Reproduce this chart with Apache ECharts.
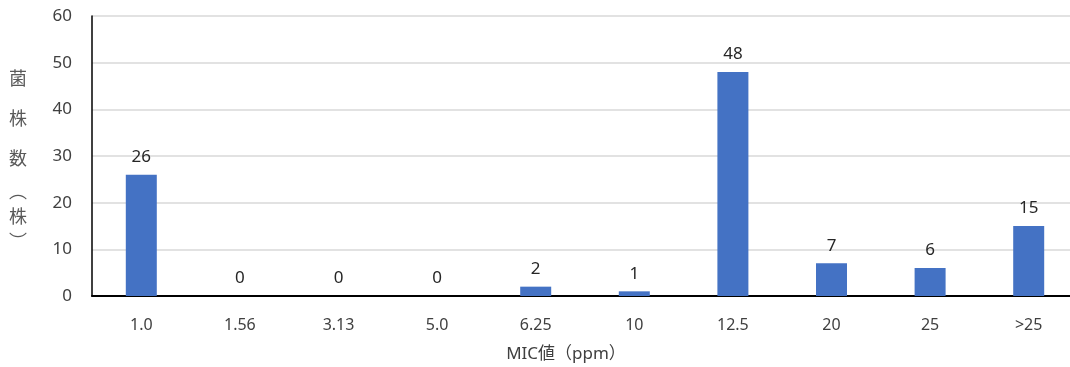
<!DOCTYPE html>
<html>
<head>
<meta charset="utf-8">
<script src="https://cdn.jsdelivr.net/npm/echarts@6/dist/echarts.min.js"></script>
<style>html,body{margin:0;padding:0;background:#fff}#c{width:1070px;height:367px}</style>
</head>
<body>
<div id="c"></div>
<script>
const categories = ['1.0', '1.56', '3.13', '5.0', '6.25', '10', '12.5', '20', '25', '>25'];
const counts = [26, 0, 0, 0, 2, 1, 48, 7, 6, 15];
const yTicks = { min: 0, max: 60, interval: 10 };
const xTitle = 'MIC値（ppm）';
const yTitle = ['菌', '株', '数', '︵', '株', '︶'];

const font = '"Noto Sans", "Noto Sans CJK JP", sans-serif';
const chart = echarts.init(document.getElementById('c'), null, { renderer: 'canvas' });
chart.setOption({
  animation: false,
  backgroundColor: '#ffffff',
  grid: { left: 92, width: 986, top: 16, bottom: 71, outerBoundsMode: 'none' },
  xAxis: {
    type: 'category',
    data: categories,
    axisLine: { lineStyle: { color: '#000000', width: 2 } },
    axisTick: { show: false },
    axisLabel: { color: '#404040', fontSize: 16, fontFamily: font, margin: 21 },
    name: xTitle,
    nameLocation: 'middle',
    nameGap: 50,
    nameTextStyle: { color: '#404040', fontSize: 17, fontFamily: font, padding: [0, 38, 0, 0] }
  },
  yAxis: {
    type: 'value',
    min: yTicks.min, max: yTicks.max, interval: yTicks.interval,
    axisLine: { show: true, lineStyle: { color: '#000000', width: 1.5 } },
    axisTick: { show: false },
    splitLine: { lineStyle: { color: '#d9d9d9', width: 1.5 } },
    axisLabel: { color: '#404040', fontSize: 17, fontFamily: font, margin: 20 },
    name: yTitle.map((c, i) => (i < 3 ? '{a|' + c + '}' : '{b|' + c + '}')).join('\n'),
    nameLocation: 'middle',
    nameRotate: 0,
    nameGap: 65,
    nameTextStyle: {
      color: '#595959', fontFamily: '"Noto Sans CJK JP", sans-serif', fontSize: 18,
      rich: {
        a: { fontSize: 18, lineHeight: 40, color: '#595959', fontFamily: '"Noto Sans CJK JP", sans-serif' },
        b: { fontSize: 18, lineHeight: 25, color: '#595959', fontFamily: '"Noto Sans CJK JP", sans-serif' }
      }
    }
  },
  series: [{
    type: 'bar',
    data: counts,
    barWidth: 31,
    itemStyle: { color: '#4472c4' },
    label: { show: true, position: 'top', distance: 9, color: '#262626', fontSize: 17, fontFamily: font }
  }]
});
</script>
</body>
</html>
